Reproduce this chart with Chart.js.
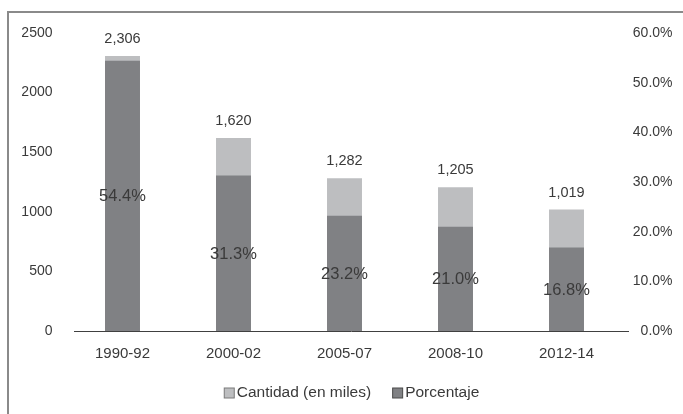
<!DOCTYPE html>
<html>
<head>
<meta charset="utf-8">
<script src="https://cdn.jsdelivr.net/npm/chart.js@4/dist/chart.umd.min.js"></script>
<style>
  html, body { margin: 0; padding: 0; background: #ffffff; }
  #wrap { position: relative; width: 683px; height: 414px; overflow: hidden; }
  canvas { display: block; }
</style>
</head>
<body>
<div id="wrap"><canvas id="c" width="683" height="414"></canvas></div>
<script>
// Periods and series
const periodos = ['1990-92', '2000-02', '2005-07', '2008-10', '2012-14'];
const cantidadMiles = [2306, 1620, 1282, 1205, 1019];
const porcentaje = [54.4, 31.3, 23.2, 21.0, 16.8];

// Axis ticks
const ticksCantidad = [0, 500, 1000, 1500, 2000, 2500];
const ticksPorcentaje = [0, 10, 20, 30, 40, 50, 60];

const COLOR_CLARO = '#bdbec0';
const COLOR_OSCURO = '#808184';
const COLOR_TEXTO = '#3a3a3a';
const FONT = '"Liberation Sans", Arial, sans-serif';

// Frame, shifted axis baseline, value labels and legend
const decoraciones = {
  id: 'decoraciones',
  beforeDraw(chart) {
    const ctx = chart.ctx;
    ctx.save();
    ctx.strokeStyle = '#8a8a8a';
    ctx.lineWidth = 2;
    ctx.strokeRect(8, 12, 760, 480);
    ctx.restore();
  },
  afterDatasetsDraw(chart) {
    const ctx = chart.ctx;
    const area = chart.chartArea;
    ctx.save();
    // category axis line
    ctx.strokeStyle = '#404040';
    ctx.lineWidth = 1;
    ctx.beginPath();
    ctx.moveTo(area.left + 7, area.bottom + 0.5);
    ctx.lineTo(area.right + 7, area.bottom + 0.5);
    ctx.stroke();

    ctx.fillStyle = COLOR_TEXTO;
    ctx.textAlign = 'center';
    ctx.textBaseline = 'middle';

    // quantity labels above the light bars
    const metaC = chart.getDatasetMeta(0);
    ctx.font = '14.5px ' + FONT;
    metaC.data.forEach((bar, i) => {
      ctx.fillText(cantidadMiles[i].toLocaleString('en-US'), bar.x, bar.y - 17);
    });

    // percentage labels centred in the dark bars
    const metaP = chart.getDatasetMeta(1);
    ctx.font = '16.5px ' + FONT;
    metaP.data.forEach((bar, i) => {
      ctx.fillText(porcentaje[i].toFixed(1) + '%', bar.x, (bar.y + bar.base) / 2 + 1);
    });

    // legend
    ctx.font = '15.5px ' + FONT;
    ctx.textAlign = 'left';
    const items = chart.data.datasets.map(ds => ({
      text: ds.label, fill: ds.backgroundColor, stroke: ds.legendBorder
    }));
    const box = 11, gap = 2, spacing = 21;
    const widths = items.map(it => box + gap + ctx.measureText(it.text).width);
    const total = widths.reduce((a, b) => a + b, 0) + spacing * (items.length - 1);
    let x = (area.left + area.right) / 2 + 7 - total / 2;
    const y = 393;
    items.forEach((it, i) => {
      ctx.fillStyle = it.fill;
      ctx.fillRect(x + 0.5, y - box / 2 + 0.5, box - 1, box - 1);
      ctx.strokeStyle = it.stroke;
      ctx.lineWidth = 1;
      ctx.strokeRect(x + 0.5, y - box / 2 + 0.5, box - 1, box - 1);
      ctx.fillStyle = COLOR_TEXTO;
      ctx.fillText(it.text, x + box + gap, y);
      x += widths[i] + spacing;
    });
    ctx.restore();
  }
};

new Chart(document.getElementById('c'), {
  type: 'bar',
  data: {
    labels: periodos,
    datasets: [
      {
        label: 'Cantidad (en miles)',
        data: cantidadMiles,
        yAxisID: 'yCant',
        backgroundColor: COLOR_CLARO,
        legendBorder: '#7a7a7a',
        grouped: false,
        order: 2,
        categoryPercentage: 1,
        barPercentage: 0.315
      },
      {
        label: 'Porcentaje',
        data: porcentaje,
        yAxisID: 'yPct',
        backgroundColor: COLOR_OSCURO,
        legendBorder: '#4a4a4a',
        grouped: false,
        order: 1,
        categoryPercentage: 1,
        barPercentage: 0.315
      }
    ]
  },
  options: {
    responsive: false,
    animation: false,
    layout: { padding: { top: 33, left: 22, right: 10.5, bottom: 51 } },
    plugins: {
      legend: { display: false },
      tooltip: { enabled: false }
    },
    scales: {
      x: {
        grid: { display: false, drawTicks: false },
        border: { display: false },
        ticks: {
          color: COLOR_TEXTO,
          font: { family: FONT, size: 15 },
          padding: 14,
          maxRotation: 0
        },
        afterFit(scale) { scale.height = 32; }
      },
      yCant: {
        position: 'left',
        min: 0,
        max: 2500,
        afterBuildTicks(scale) { scale.ticks = ticksCantidad.map(v => ({ value: v })); },
        grid: { display: false, drawTicks: false },
        border: { display: false },
        ticks: {
          color: COLOR_TEXTO,
          font: { family: FONT, size: 14 },
          padding: 14.5,
          callback: v => String(v)
        },
        afterFit(scale) { scale.width = 45; }
      },
      yPct: {
        position: 'right',
        min: 0,
        max: 60,
        afterBuildTicks(scale) { scale.ticks = ticksPorcentaje.map(v => ({ value: v })); },
        grid: { display: false, drawTicks: false },
        border: { display: false },
        ticks: {
          color: COLOR_TEXTO,
          font: { family: FONT, size: 14 },
          crossAlign: 'far',
          callback: v => v.toFixed(1) + '%'
        },
        afterFit(scale) { scale.width = 50.5; }
      }
    }
  },
  plugins: [decoraciones]
});
</script>
</body>
</html>
